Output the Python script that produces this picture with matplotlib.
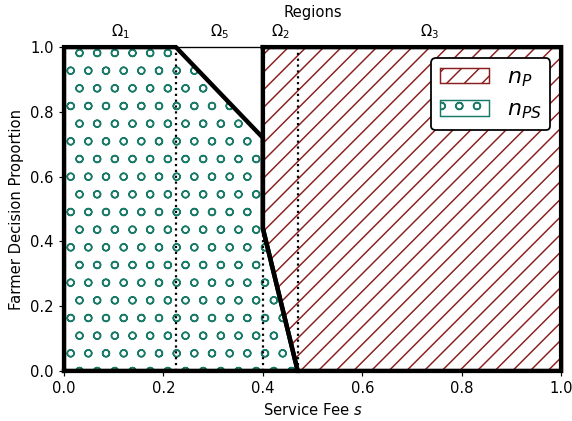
import matplotlib
matplotlib.use("Agg")
import matplotlib.pyplot as plt

# Region boundaries along service fee s
boundaries = [0.225, 0.40, 0.47]
region_labels = [r"$\Omega_1$", r"$\Omega_5$", r"$\Omega_2$", r"$\Omega_3$"]

# n_PS region polygon
nps_x = [0.0, 0.0, 0.225, 0.40, 0.40, 0.47]
nps_y = [0.0, 1.0, 1.0, 0.72, 0.44, 0.0]

# n_P region polygon
np_x = [0.40, 1.0, 1.0, 0.47, 0.40]
np_y = [1.0, 1.0, 0.0, 0.0, 0.44]

green = "#1a7a68"
red = "#8b1f1f"

dpi = 106
fig = plt.figure(figsize=(572 / dpi, 421 / dpi), dpi=dpi)
ax = fig.add_axes([0.112, 0.119, 0.869, 0.769])

plt.rcParams['hatch.linewidth'] = 1.0

ax.fill(np_x, np_y, facecolor="none", edgecolor=red, hatch="//", lw=1.0,
        label=r"$n_P$")
ax.fill(nps_x, nps_y, facecolor="none", edgecolor=green, hatch="o", lw=1.0,
        label=r"$n_{PS}$")

# thick outlines
ax.plot(nps_x + [nps_x[0]], nps_y + [nps_y[0]], color="black", lw=3,
        clip_on=False, solid_joinstyle="miter", zorder=3)
ax.plot(np_x + [np_x[0]], np_y + [np_y[0]], color="black", lw=3,
        clip_on=False, solid_joinstyle="miter", zorder=3)

for b in boundaries:
    ax.axvline(b, color="black", ls=":", lw=1.5, zorder=2)

ax.set_xlim(0, 1)
ax.set_ylim(0, 1)
ax.set_xlabel(r"Service Fee $s$", fontsize=10)
ax.set_ylabel("Farmer Decision Proportion", fontsize=10)
ax.tick_params(labelsize=10)

edges = [0.0] + boundaries + [1.0]
mids = [(edges[i] + edges[i + 1]) / 2 for i in range(len(edges) - 1)]
sec = ax.secondary_xaxis("top")
sec.set_xticks(mids)
sec.set_xticklabels(region_labels, fontsize=10)
sec.tick_params(length=0, pad=4)
sec.set_xlabel("Regions", fontsize=10)

leg = ax.legend(loc="upper right", fontsize=15, framealpha=1,
                edgecolor="black", fancybox=True, handlelength=2.2)
leg.get_frame().set_linewidth(1.2)

fig.savefig("out.png", dpi=dpi)
